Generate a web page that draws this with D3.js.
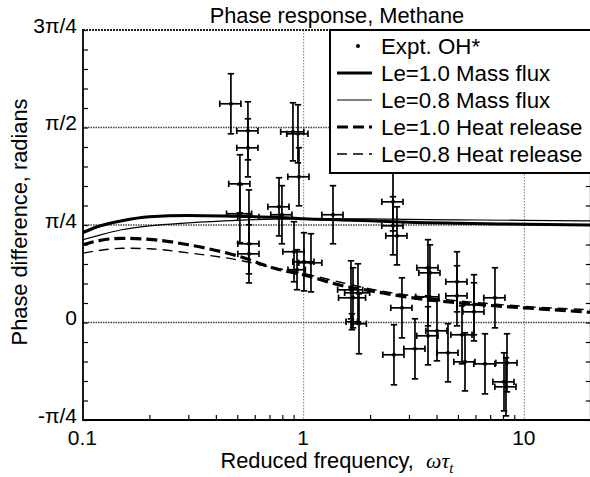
<!DOCTYPE html>
<html><head><meta charset="utf-8">
<script src="https://cdn.jsdelivr.net/npm/d3@7"></script>
<style>
html,body{margin:0;padding:0;background:#fff;}
svg{display:block;}
text{font-family:"Liberation Sans",Arial,Helvetica,sans-serif;fill:#000;}
</style></head>
<body>
<svg id="chart" width="590" height="477"></svg>
<script>
// ---------- data ----------
const title = "Phase response, Methane";
const xLabel = "Reduced frequency,";
const yLabel = "Phase difference, radians";

// experimental points (OH*): reduced frequency, phase (rad), phase half-error (rad), relative frequency error
const exptFreq  = [0.468,0.559,0.559,0.514,0.514,0.565,0.565,0.565,0.773,0.797,0.894,0.942,0.952,1.358,0.904,0.933,1.003,1.079,1.638,1.762,1.673,1.655,1.781,2.539,2.539,2.647,3.658,3.735,3.658,4.018,3.658,2.565,3.194,2.788,4.507,4.951,4.951,5.217,5.382,5.911,5.911,6.630,7.357,8.342,8.086,8.255];
const exptPhase = [1.762,1.544,1.407,1.117,0.876,0.851,0.634,0.553,0.932,0.868,1.536,1.520,1.174,0.868,0.570,0.425,0.489,0.481,0.263,0.239,0.199,0.006,-0.010,0.972,0.779,0.698,0.441,0.400,0.207,-0.067,-0.107,-0.260,-0.212,0.118,-0.244,0.328,0.215,-0.099,-0.317,0.143,0.086,-0.333,0.199,-0.325,-0.478,-0.518];
const exptPhaseErr = [0.242,0.234,0.234,0.234,0.234,0.217,0.242,0.234,0.234,0.234,0.234,0.234,0.234,0.234,0.242,0.161,0.234,0.234,0.234,0.234,0.242,0.064,0.242,0.234,0.234,0.234,0.226,0.226,0.234,0.242,0.234,0.242,0.242,0.242,0.234,0.242,0.242,0.234,0.234,0.242,0.234,0.242,0.242,0.234,0.234,0.234];
const exptFreqErr = [0.11,0.11,0.11,0.11,0.13,0.11,0.11,0.11,0.11,0.11,0.12,0.11,0.11,0.11,0.11,0.09,0.11,0.12,0.13,0.13,0.14,0.06,0.08,0.11,0.11,0.11,0.11,0.11,0.12,0.11,0.11,0.11,0.11,0.11,0.11,0.11,0.11,0.11,0.11,0.11,0.11,0.11,0.11,0.11,0.11,0.11];

// model curves
const curveFreq      = [0.1,  0.12, 0.15, 0.2,  0.3,  0.5,  0.75, 1,    1.5,  2,    3,    5,    10,   20];
const massLe10       = [0.725,0.779,0.819,0.851,0.862,0.855,0.848,0.835,0.826,0.819,0.807,0.799,0.791,0.785];
const massLe08       = [0.666,0.706,0.747,0.779,0.803,0.823,0.832,0.835,0.835,0.835,0.831,0.827,0.823,0.819];
const heatLe10       = [0.626,0.662,0.678,0.670,0.626,0.537,0.433,0.384,0.296,0.256,0.203,0.159,0.118,0.082];
const heatLe08       = [0.559,0.582,0.598,0.594,0.561,0.505,0.437,0.395,0.320,0.271,0.219,0.175,0.130,0.102];

const yTickValues = [-Math.PI/4, 0, Math.PI/4, Math.PI/2, 3*Math.PI/4];
const yTickLabels = ["-\u03C0/4", "0", "\u03C0/4", "\u03C0/2", "3\u03C0/4"];
const xTickValues = [0.1, 1, 10];
const xTickLabels = ["0.1", "1", "10"];
const xMinorTicks = [0.2,0.3,0.4,0.5,0.6,0.7,0.8,0.9,2,3,4,5,6,7,8,9,20];
const yMinorTicks = d3.range(-5, 16).map(k => k*Math.PI/20);

const legendItems = [
  {label:"Expt. OH*", type:"dot"},
  {label:"Le=1.0 Mass flux", type:"line", w:3, dash:null},
  {label:"Le=0.8 Mass flux", type:"line", w:1.2, dash:null},
  {label:"Le=1.0 Heat release", type:"line", w:3.2, dash:"11,5"},
  {label:"Le=0.8 Heat release", type:"line", w:1.4, dash:"10,6"}
];

// ---------- layout ----------
const L = 83, R = 590.8, T = 30, B = 420;
const svg = d3.select("#chart");
const x = d3.scaleLog().domain([0.1, 20]).range([L, R]);
const y = d3.scaleLinear().domain([-Math.PI/4, 3*Math.PI/4]).range([B, T]);

// gridlines (dotted)
const grid = svg.append("g");
[0, Math.PI/4, Math.PI/2].forEach(v => {
  grid.append("line").attr("x1", L).attr("x2", R).attr("y1", y(v)).attr("y2", y(v))
    .attr("stroke", "#444").attr("stroke-width", 1.3).attr("stroke-dasharray", "1.5,1");
});
[1, 10].forEach(v => {
  grid.append("line").attr("y1", T).attr("y2", B).attr("x1", x(v)).attr("x2", x(v))
    .attr("stroke", "#777").attr("stroke-width", 1).attr("stroke-dasharray", "1.5,1.5");
});

// minor ticks (inward)
svg.append("g").attr("transform", `translate(${L},0)`)
  .call(d3.axisLeft(y).tickValues(yMinorTicks).tickSize(-5).tickFormat(""))
  .call(g => g.select(".domain").remove())
  .selectAll("line").attr("stroke", "#000").attr("stroke-width", 1.2);
svg.append("g").attr("transform", `translate(${R},0)`)
  .call(d3.axisRight(y).tickValues(yMinorTicks).tickSize(-5).tickFormat(""))
  .call(g => g.select(".domain").remove())
  .selectAll("line").attr("stroke", "#000").attr("stroke-width", 1.2);
svg.append("g").attr("transform", `translate(0,${B})`)
  .call(d3.axisBottom(x).tickValues(xMinorTicks).tickSize(-5).tickFormat(""))
  .call(g => g.select(".domain").remove())
  .selectAll("line").attr("stroke", "#000").attr("stroke-width", 1.2);

// tick labels via axes
const yAx = svg.append("g").attr("transform", `translate(${L},0)`)
  .call(d3.axisLeft(y).tickValues(yTickValues).tickSize(0).tickPadding(6).tickFormat((d,i) => yTickLabels[i]));
yAx.select(".domain").remove();
yAx.selectAll("text").attr("font-size", 21).attr("font-family", '"Liberation Sans", Arial, sans-serif')
  .attr("dy", "0.1em").attr("fill", "#000");

const xAx = svg.append("g").attr("transform", `translate(0,${B})`)
  .call(d3.axisBottom(x).tickValues(xTickValues).tickSize(0).tickPadding(10).tickFormat((d,i) => xTickLabels[i]));
xAx.select(".domain").remove();
xAx.selectAll("text").attr("font-size", 21).attr("font-family", '"Liberation Sans", Arial, sans-serif')
  .attr("dx", "-0.05em").attr("fill", "#000");

// model curves
const lineGen = d3.line().x(d => x(d[0])).y(d => y(d[1])).curve(d3.curveMonotoneX);
const curves = [
  {vals: heatLe08, w: 1.4, dash: "10,6"},
  {vals: heatLe10, w: 3.2, dash: "11,5"},
  {vals: massLe08, w: 1.2, dash: null},
  {vals: massLe10, w: 3, dash: null}
];
curves.forEach(c => {
  svg.append("path").datum(curveFreq.map((f,i) => [f, c.vals[i]]))
    .attr("d", lineGen).attr("fill", "none").attr("stroke", "#000")
    .attr("stroke-width", c.w).attr("stroke-dasharray", c.dash);
});

// experimental points with error bars
const pts = exptFreq.map((f,i) => ({f, p: exptPhase[i], e: exptPhaseErr[i], fe: exptFreqErr[i]}));
const eg = svg.append("g").attr("stroke", "#000").attr("stroke-width", 1.7);
const cap = 3.2;
pts.forEach(d => {
  const cx = x(d.f), cy = y(d.p);
  const y1 = y(d.p + d.e), y2 = y(d.p - d.e);
  const x1 = x(d.f*(1 - d.fe)), x2 = x(d.f*(1 + d.fe));
  eg.append("line").attr("x1", cx).attr("x2", cx).attr("y1", y1).attr("y2", y2);
  eg.append("line").attr("x1", cx-cap).attr("x2", cx+cap).attr("y1", y1).attr("y2", y1);
  eg.append("line").attr("x1", cx-cap).attr("x2", cx+cap).attr("y1", y2).attr("y2", y2);
  eg.append("line").attr("x1", x1).attr("x2", x2).attr("y1", cy).attr("y2", cy);
  eg.append("line").attr("x1", x1).attr("x2", x1).attr("y1", cy-cap).attr("y2", cy+cap);
  eg.append("line").attr("x1", x2).attr("x2", x2).attr("y1", cy-cap).attr("y2", cy+cap);
  svg.append("circle").attr("cx", cx).attr("cy", cy).attr("r", 2).attr("fill", "#000");
});

// frame
svg.append("line").attr("x1", L).attr("x2", R).attr("y1", T).attr("y2", T)
  .attr("stroke", "#222").attr("stroke-width", 1.8).attr("stroke-dasharray", "2,1");
svg.append("line").attr("x1", L).attr("x2", L).attr("y1", T-0.9).attr("y2", B+1)
  .attr("stroke", "#000").attr("stroke-width", 1.8);
svg.append("line").attr("x1", L).attr("x2", R).attr("y1", B).attr("y2", B)
  .attr("stroke", "#000").attr("stroke-width", 1.8);
svg.append("line").attr("x1", R).attr("x2", R).attr("y1", T).attr("y2", B)
  .attr("stroke", "#000").attr("stroke-width", 1.8);

// legend
const lg = svg.append("g");
const lgX = 330, lgY = 30, lgW = 265, lgH = 143;
lg.append("rect").attr("x", lgX).attr("y", lgY).attr("width", lgW).attr("height", lgH)
  .attr("fill", "#fff").attr("stroke", "#000").attr("stroke-width", 2);
legendItems.forEach((it, i) => {
  const cy = 46 + i*27;
  if (it.type === "dot") {
    lg.append("circle").attr("cx", 358).attr("cy", cy).attr("r", 2).attr("fill", "#000");
  } else {
    lg.append("line").attr("x1", 337).attr("x2", 372).attr("y1", cy).attr("y2", cy)
      .attr("stroke", "#000").attr("stroke-width", it.w).attr("stroke-dasharray", it.dash);
  }
  lg.append("text").attr("x", 381).attr("y", cy + 7.8).attr("font-size", 22.3).text(it.label);
});

// title & axis labels
svg.append("text").attr("x", (L+R)/2).attr("y", 22.5).attr("text-anchor", "middle")
  .attr("font-size", 21.8).text(title);

const xl = svg.append("text").attr("x", (L+R)/2).attr("y", 468).attr("text-anchor", "middle").attr("font-size", 21.8);
xl.append("tspan").text(xLabel + "\u00A0\u00A0");
xl.append("tspan").attr("font-family", '"Liberation Serif", "Times New Roman", serif').attr("font-style", "italic").text("\u03C9\u03C4");
xl.append("tspan").attr("font-family", '"Liberation Serif", "Times New Roman", serif').attr("font-style", "italic")
  .attr("font-size", 15).attr("dy", 5).text("t");

svg.append("text").attr("transform", `translate(27,222) rotate(-90)`)
  .attr("text-anchor", "middle").attr("font-size", 21.8).text(yLabel);
</script>
</body></html>
